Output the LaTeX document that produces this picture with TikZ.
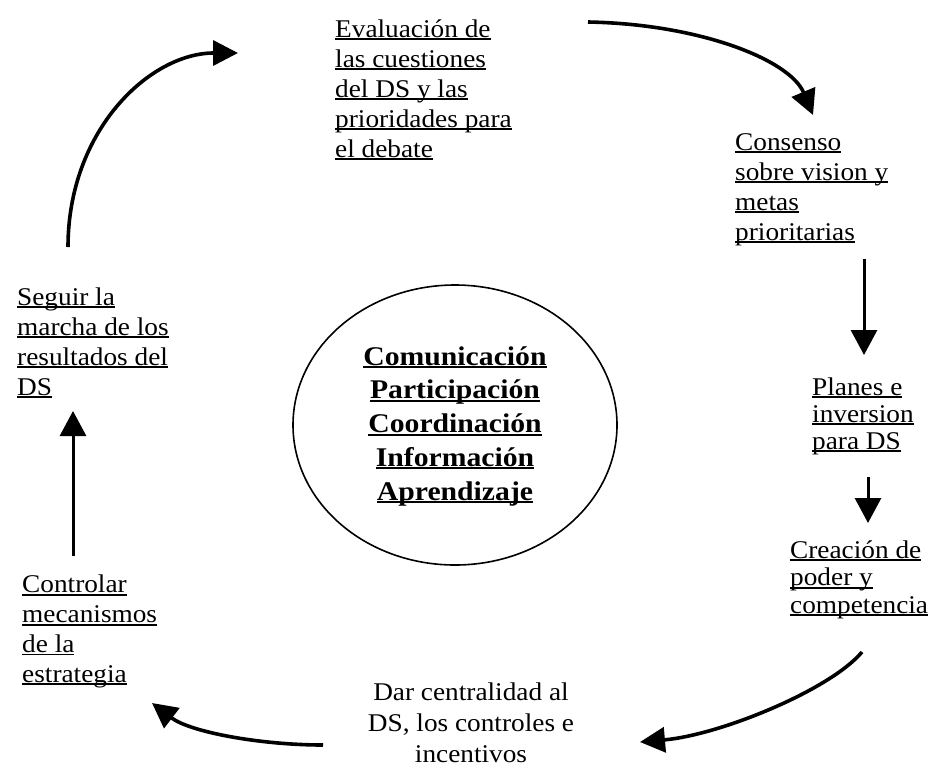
\documentclass[tikz,border=0pt]{standalone}
\usepackage{fontspec}
\setmainfont{Liberation Serif}[FakeStretch=1.07]
\newfontfamily\heavyf{Liberation Serif}[FakeStretch=1.1]
\usetikzlibrary{arrows.meta,shapes.geometric}
% underline a line of text just below its baseline
\newcommand{\ulx}[1]{\setbox0=\hbox{#1}\rlap{\rule[-3pt]{\wd0}{1.8pt}}\box0}

\begin{document}
\begin{tikzpicture}[x=1pt,y=-1pt,
  blk/.style={inner sep=0pt, align=left, anchor=base west,
    font=\fontsize{25.5}{30}\selectfont},
  flow/.style={line width=3.6pt, -{Triangle[length=25pt,width=25pt]}},
  vflow/.style={line width=3pt, -{Triangle[length=25pt,width=26pt]}},
]
\useasboundingbox (0,0) rectangle (933,769);

% cycle stages (each node is placed by the baseline of its last line)
\node[blk] (eval) at (335,157) {\ulx{Evaluación de}\\ \ulx{las cuestiones}\\ \ulx{del DS y las}\\ \ulx{prioridades para}\\ \ulx{el debate}};
\node[blk] (cons) at (735,240) {\ulx{Consenso}\\ \ulx{sobre vision y}\\ \ulx{metas}\\ \ulx{prioritarias}};
\node[blk, font=\fontsize{25.5}{27}\selectfont] (plan) at (812,449) {\ulx{Planes e}\\ \ulx{inversion}\\ \ulx{para DS}};
\node[blk, font=\fontsize{25.5}{27.5}\selectfont] (crea) at (790,613) {\ulx{Creación de}\\ \ulx{poder y}\\ \ulx{competencia}};
\node[blk, align=center, anchor=base, font=\fontsize{25.5}{31}\selectfont] (dar) at (471,762) {Dar centralidad al\\ DS, los controles e\\ incentivos};
\node[blk, font=\fontsize{25.5}{29.7}\selectfont] (ctrl) at (22,682) {\ulx{Controlar}\\ \ulx{mecanismos}\\ \ulx{de la}\\ \ulx{estrategia}};
\node[blk] (seg) at (17,395) {\ulx{Seguir la}\\ \ulx{marcha de los}\\ \ulx{resultados del}\\ \ulx{DS}};

% central ellipse
\node[draw, ellipse, line width=1.6pt, minimum width=324pt, minimum height=280pt, inner sep=0pt] (hub) at (455,425) {};
\node[inner sep=0pt, align=center, anchor=base,
  font=\heavyf\bfseries\fontsize{27}{33.75}\selectfont] (core) at (455,500)
  {\ulx{Comunicación}\\ \ulx{Participación}\\ \ulx{Coordinación}\\ \ulx{Información}\\ \ulx{Aprendizaje}};

% connector end points
\coordinate (a1) at (588,22);   \coordinate (a2) at (813,115);
\coordinate (b1) at (864,259);  \coordinate (b2) at (864,355);
\coordinate (c1) at (868,477);  \coordinate (c2) at (868,523);
\coordinate (d1) at (862,652);  \coordinate (d2) at (640,742);
\coordinate (e1) at (323,745);  \coordinate (e2) at (152,703);
\coordinate (f1) at (73,556);   \coordinate (f2) at (73,411);
\coordinate (g1) at (68,247);   \coordinate (g2) at (238,53);

% arrows of the cycle
\draw[flow] (a1) .. controls (700,24) and (790,60) .. (a2);
\draw[vflow] (b1) -- (b2);
\draw[vflow] (c1) -- (c2);
\draw[flow] (d1) .. controls (830,690) and (720,735) .. (d2);
\draw[flow] (e1) .. controls (260,745) and (190,732) .. (e2);
\draw[vflow] (f1) -- (f2);
\draw[flow] (g1) .. controls (68,130) and (150,53) .. (g2);
\end{tikzpicture}
\end{document}
